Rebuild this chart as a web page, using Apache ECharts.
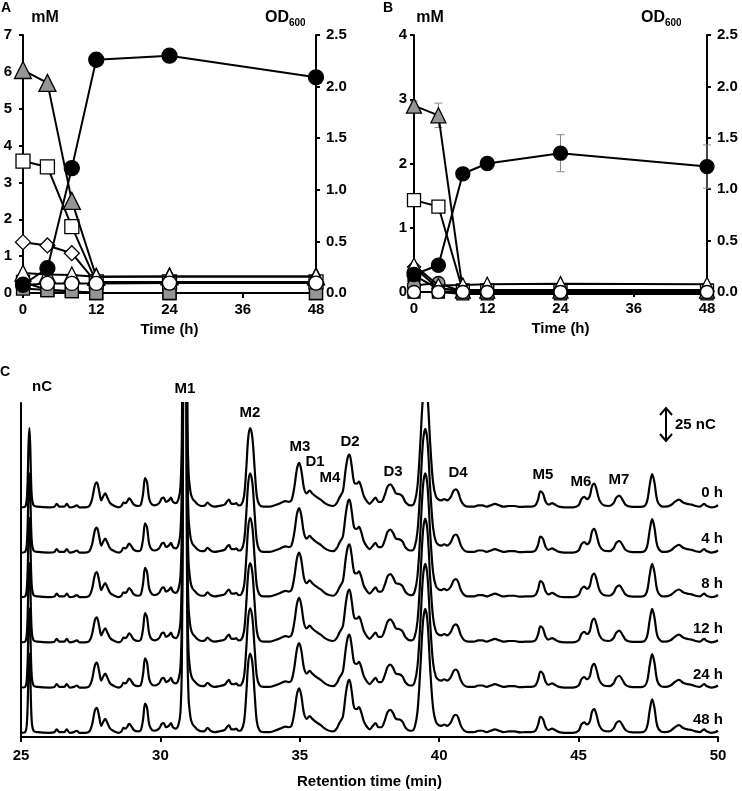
<!DOCTYPE html>
<html><head><meta charset="utf-8">
<script src="https://cdn.jsdelivr.net/npm/echarts/dist/echarts.min.js"></script>
<style>html,body{margin:0;padding:0;background:#fff}#c{width:742px;height:791px}</style>
</head><body><div id="c"></div>
<script>
// ---------- Panels A / B : time course ----------
const timesH = [0, 4, 8, 12, 24, 48];

const aOD        = [0.08, 0.24, 1.21, 2.26, 2.30, 2.09];
const aGrayTri   = [6.05, 5.70, 2.50, 0.44, 0.45, 0.45];
const aWhiteSq   = [3.58, 3.42, 1.80, 0.30, 0.30, 0.30];
const aWhiteDia  = [1.38, 1.29, 1.08, 0.28, 0.30, 0.30];
const aWhiteTri  = [0.54, 0.50, 0.49, 0.44, 0.45, 0.45];
const aWhiteCirc = [0.22, 0.26, 0.26, 0.26, 0.27, 0.27];
const aBlackSq   = [0.30, 0.08, 0.05, 0.00, 0.00, 0.00];
const aGraySq    = [0.12, 0.08, 0.05, 0.00, 0.00, 0.00];

const bOD        = [0.17, 0.26, 1.15, 1.25, 1.35, 1.22];
const bODErr     = [0.03, 0.03, 0.03, 0.04, 0.18, 0.21];
const bGrayTri   = [2.90, 2.75, 0.02, 0.02, 0.02, 0.02];
const bGrayTriErr= [0.07, 0.19, 0.00, 0.00, 0.00, 0.00];
const bWhiteSq   = [1.43, 1.33, 0.02, 0.02, 0.02, 0.02];
const bWhiteDia  = [0.39, 0.05, 0.02, 0.02, 0.02, 0.02];
const bWhiteTri  = [0.42, 0.10, 0.11, 0.12, 0.13, 0.12];
const bGrayCirc  = [0.10, 0.14, 0.00, 0.00, 0.00, 0.00];
const bBlackSq   = [0.26, 0.05, 0.03, 0.03, 0.03, 0.03];
const bGraySq    = [0.00, 0.00, -0.03, -0.03, -0.03, -0.03];
const bWhiteCirc = [0.00, 0.00, 0.00, 0.00, 0.00, 0.00];

// ---------- Panel C : chromatogram profile [retention time (min), signal (nC)] ----------
const chromatogram = [
[25.00,0],[25.15,0.5],[25.22,10],[25.27,45],[25.30,57],[25.33,45],[25.38,10],[25.45,1.5],[25.60,0.5],[26.00,0],
[26.20,0.5],[26.28,2.5],[26.38,0.5],[26.55,0.5],[26.64,2.5],[26.75,0],[26.90,0.5],[27.00,1.5],[27.10,0],[27.30,0],
[27.45,1],[27.55,6],[27.65,16],[27.72,18],[27.80,12],[27.88,5],[27.95,8],[28.02,10],[28.10,7],[28.20,3],
[28.35,1],[28.50,0],[28.60,1],[28.68,3.5],[28.74,3],[28.80,4],[28.88,6.5],[28.95,5],[29.05,2],[29.20,1],
[29.30,2],[29.38,10],[29.45,21],[29.52,18],[29.60,6],[29.70,2],[29.80,1.5],[29.95,3],[30.05,6.5],[30.12,7],
[30.20,4],[30.30,5],[30.38,7],[30.45,4],[30.55,3],[30.65,6],[30.72,15],[30.77,50],[30.81,200],[30.84,600],
[30.87,1000],[30.89,1000],[30.91,600],[30.94,200],[30.97,60],[31.01,25],[31.06,14],[31.10,9],[31.16,6],[31.25,4],
[31.35,2],[31.50,1],[31.60,1.5],[31.69,3.5],[31.80,1.5],[31.95,0.5],[32.10,1],[32.30,2],[32.40,4.5],[32.46,5.5],
[32.55,2.5],[32.65,2.5],[32.72,3],[32.80,1.5],[32.90,2],[33.00,8],[33.08,28],[33.15,50],[33.22,57],[33.30,50],
[33.38,28],[33.46,8],[33.55,2],[33.70,0.5],[33.90,0.5],[34.10,1.5],[34.30,3],[34.50,4.5],[34.60,4],[34.70,5],
[34.80,14],[34.90,28],[34.98,32],[35.06,26],[35.15,14],[35.25,10],[35.35,12],[35.45,10],[35.60,7.5],[35.75,5.5],
[35.90,3],[36.05,1.5],[36.20,1],[36.32,3],[36.42,7],[36.48,9],[36.55,12],[36.65,28],[36.72,36],[36.78,38],
[36.86,30],[36.95,18],[37.05,17],[37.12,18.5],[37.20,15],[37.30,8],[37.42,4],[37.50,2.5],[37.62,5],[37.72,7],
[37.82,4],[37.92,4],[38.05,9],[38.15,15],[38.25,16.5],[38.35,14],[38.45,10],[38.58,9.5],[38.68,8],[38.80,3.5],
[38.95,1.5],[39.02,1.5],[39.12,4],[39.22,15],[39.32,45],[39.42,80],[39.50,89],[39.58,80],[39.68,45],[39.78,18],
[39.88,8],[39.98,5.5],[40.08,5],[40.18,6],[40.28,5],[40.40,7],[40.52,12],[40.60,13],[40.68,11],[40.78,5],
[40.90,1.5],[41.05,0.5],[41.25,0.5],[41.40,1.5],[41.55,1.5],[41.70,0.5],[41.85,1.5],[42.00,2.5],[42.15,1.5],[42.30,0.5],
[42.50,1],[42.70,1],[42.90,0.3],[43.10,0.5],[43.30,0.5],[43.45,1.5],[43.55,6],[43.63,11.5],[43.72,10],[43.82,4],
[43.92,2],[44.05,3],[44.15,2],[44.30,0.5],[44.50,0],[44.80,0],[45.00,1.5],[45.10,6],[45.20,7.5],[45.30,6],
[45.40,8],[45.48,15],[45.56,17],[45.64,13],[45.75,5],[45.90,1.5],[46.10,1],[46.25,3],[46.35,7],[46.46,8.5],
[46.56,6],[46.68,2],[46.85,0.5],[47.10,0.3],[47.30,0.5],[47.45,4],[47.55,16],[47.64,24],[47.72,18],[47.82,5],
[47.95,1],[48.10,0.5],[48.30,1.5],[48.45,4],[48.60,5.5],[48.75,3.5],[48.90,2.5],[49.05,2],[49.20,1],[49.35,0.5],
[49.50,2.5],[49.60,1],[49.75,0],[49.90,0.5],[50.00,1.5]];
const traceNames = ['0 h', '4 h', '8 h', '12 h', '24 h', '48 h'];
const traceOffsetsNC = [165, 132.5, 100.5, 68, 35.5, 3];
const peakLabels = ['nC','M1','M2','M3','D1','M4','D2','D3','D4','M5','M6','M7'];

// ---------- styles ----------
const FONT = '"Liberation Sans", Arial, Helvetica, sans-serif';
const txt = {color: '#000', fontWeight: 'bold', fontFamily: FONT, fontSize: 15};
const BLK = '#000', GRAY = '#959595', WHITE = '#fff';

function pairs(vals) { return timesH.map((t, i) => [t, vals[i]]); }
function errData(vals, errs) {
  const out = [];
  vals.forEach((v, i) => { if (errs[i] > 0) out.push([timesH[i], v - errs[i], v + errs[i]]); });
  return out;
}
function errRender(params, api) {
  const x = api.value(0), lo = api.value(1), hi = api.value(2);
  const p1 = api.coord([x, hi]), p2 = api.coord([x, lo]);
  const w = 4, st = {stroke: '#8a8a8a', lineWidth: 1};
  return {type: 'group', children: [
    {type: 'line', shape: {x1: p1[0], y1: p1[1], x2: p2[0], y2: p2[1]}, style: st},
    {type: 'line', shape: {x1: p1[0] - w, y1: p1[1], x2: p1[0] + w, y2: p1[1]}, style: st},
    {type: 'line', shape: {x1: p2[0] - w, y1: p2[1], x2: p2[0] + w, y2: p2[1]}, style: st}
  ]};
}
function ser(name, vals, grid, yIdx, symbol, size, fill, z) {
  return {
    name: name, type: 'line', xAxisIndex: grid, yAxisIndex: yIdx,
    data: pairs(vals), symbol: symbol, symbolSize: size, showAllSymbol: true,
    lineStyle: {color: BLK, width: 2}, itemStyle: {color: fill, borderColor: BLK, borderWidth: 1.3, opacity: 1},
    z: z, animation: false, emphasis: {disabled: true}, clip: false
  };
}

const xTimeAxis = (g) => ({
  type: 'value', gridIndex: g, min: 0, max: 48, interval: 12,
  axisLine: {show: true, onZero: false, lineStyle: {color: BLK, width: 2}},
  axisTick: {show: true, inside: false, length: 5, lineStyle: {color: BLK, width: 2}},
  axisLabel: Object.assign({margin: 9}, txt),
  splitLine: {show: false},
  name: 'Time (h)', nameLocation: 'middle', nameGap: 29, nameTextStyle: txt
});
const yAxis = (g, pos, max, interval, dec, margin) => ({
  type: 'value', gridIndex: g, position: pos, min: 0, max: max, interval: interval,
  axisLine: {show: true, lineStyle: {color: BLK, width: 2}},
  axisTick: {show: true, inside: false, length: 4, lineStyle: {color: BLK, width: 2}},
  axisLabel: Object.assign({margin: margin, formatter: v => v.toFixed(dec)}, txt),
  splitLine: {show: false}
});

const series = [];
// Panel A (grid 0; y 0 = mM, y 1 = OD)
series.push(ser('A black square', aBlackSq, 0, 0, 'rect', 13, BLK, 2));
series.push(ser('A gray square', aGraySq, 0, 0, 'rect', 13, GRAY, 3));
series.push(ser('A white diamond', aWhiteDia, 0, 0, 'diamond', 15, WHITE, 4));
series.push(ser('A white square', aWhiteSq, 0, 0, 'rect', 14, WHITE, 5));
series.push(ser('A gray triangle', aGrayTri, 0, 0, 'triangle', 17, GRAY, 6));
series.push(ser('A white triangle', aWhiteTri, 0, 0, 'triangle', 16, WHITE, 7));
series.push(ser('A white circle', aWhiteCirc, 0, 0, 'circle', 14, WHITE, 8));
series.push(ser('A OD600', aOD, 0, 1, 'circle', 15, BLK, 9));
// Panel B (grid 1; y 2 = mM, y 3 = OD)
series.push({type: 'custom', xAxisIndex: 1, yAxisIndex: 2, renderItem: errRender, data: errData(bGrayTri, bGrayTriErr), z: 1, animation: false});
series.push({type: 'custom', xAxisIndex: 1, yAxisIndex: 3, renderItem: errRender, data: errData(bOD, bODErr), z: 1, animation: false});
series.push(ser('B gray square', bGraySq, 1, 2, 'rect', 12, GRAY, 2));
series.push(ser('B black square', bBlackSq, 1, 2, 'rect', 12, BLK, 3));
series.push(ser('B gray circle', bGrayCirc, 1, 2, 'circle', 13, GRAY, 3));
series.push(ser('B white diamond', bWhiteDia, 1, 2, 'diamond', 13, WHITE, 4));
series.push(ser('B white square', bWhiteSq, 1, 2, 'rect', 13, WHITE, 5));
series.push(ser('B gray triangle', bGrayTri, 1, 2, 'triangle', 15, GRAY, 6));
series.push(ser('B white triangle', bWhiteTri, 1, 2, 'triangle', 14, WHITE, 7));
series.push(ser('B OD600', bOD, 1, 3, 'circle', 14, BLK, 8));
series.push(ser('B white circle', bWhiteCirc, 1, 2, 'circle', 13, WHITE, 9));
// Panel C (grid 2): the six chromatograms, stacked by their baseline offsets
traceNames.forEach((nm, k) => {
  series.push({
    name: nm, type: 'line', xAxisIndex: 2, yAxisIndex: 4, symbol: 'none', smooth: 0.35,
    data: chromatogram.map(p => [p[0], p[1] + traceOffsetsNC[k]]),
    lineStyle: {color: BLK, width: 2.2}, animation: false, clip: true, z: 2
  });
});

// text annotations
function T(text, x, y, align, size) {
  return {type: 'text', x: x, y: y, silent: true, style: {
    text: text, fill: '#000', font: 'bold ' + (size || 14) + 'px ' + FONT,
    textAlign: align || 'center', textVerticalAlign: 'middle'
  }};
}
const peakPos = [[42,387],[185,389],[250,413],[300,447],[315,462],[330,478],[350,442],[393,472],[458,473],[543,475],[581,482],[619,480]];
const graphics = [
  T('A', 1, 8, 'left'), T('mM', 45, 18, 'center', 16), T('OD', 265, 18, 'left', 16), T('600', 289, 23, 'left', 10),
  T('B', 383, 8, 'left'), T('mM', 430, 18, 'center', 16), T('OD', 641, 18, 'left', 16), T('600', 665, 23, 'left', 10),
  T('C', 0, 372, 'left'),
  T('25 nC', 675, 425, 'left', 15),
  {type: 'line', shape: {x1: 666, y1: 408, x2: 666, y2: 441}, style: {stroke: '#000', lineWidth: 2}},
  {type: 'polyline', shape: {points: [[660, 415], [666, 408], [672, 415]]}, style: {stroke: '#000', lineWidth: 2, fill: null}},
  {type: 'polyline', shape: {points: [[660, 434], [666, 441], [672, 434]]}, style: {stroke: '#000', lineWidth: 2, fill: null}}
];
peakLabels.forEach((p, i) => graphics.push(T(p, peakPos[i][0], peakPos[i][1], 'center', 15)));
traceNames.forEach((nm, k) => graphics.push(T(nm, 723, 493 + k * 45.4, 'right', 15)));

const chart = echarts.init(document.getElementById('c'), null, {renderer: 'canvas'});
chart.setOption({
  backgroundColor: '#fff',
  animation: false,
  grid: [
    {left: 23, right: 426, top: 35, bottom: 498},
    {left: 414, right: 35, top: 35, bottom: 499},
    {left: 21, right: 24, top: 403, bottom: 54}
  ],
  xAxis: [
    xTimeAxis(0), xTimeAxis(1),
    {type: 'value', gridIndex: 2, min: 25, max: 50, interval: 5,
     axisLine: {show: true, onZero: false, lineStyle: {color: BLK, width: 2}},
     axisTick: {show: true, inside: false, length: 5, lineStyle: {color: BLK, width: 2}},
     axisLabel: Object.assign({margin: 11}, txt), splitLine: {show: false},
     name: 'Retention time (min)', nameLocation: 'middle', nameGap: 37, nameTextStyle: txt}
  ],
  yAxis: [
    yAxis(0, 'left', 7, 1, 0, 11),
    yAxis(0, 'right', 2.5, 0.5, 1, 10),
    yAxis(1, 'left', 4, 1, 0, 7),
    yAxis(1, 'right', 2.5, 0.5, 1, 10),
    {type: 'value', gridIndex: 2, min: 0, max: 240, axisLine: {show: true, lineStyle: {color: BLK, width: 2}},
     axisTick: {show: false}, axisLabel: {show: false}, splitLine: {show: false}}
  ],
  series: series,
  graphic: graphics
});
</script></body></html>
